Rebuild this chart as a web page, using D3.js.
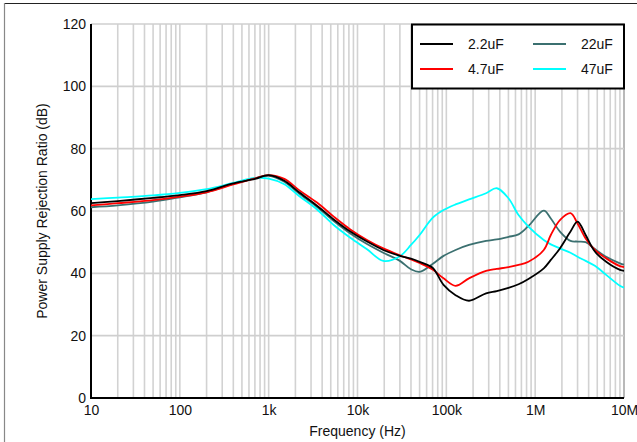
<!DOCTYPE html>
<html><head><meta charset="utf-8">
<script src="https://cdn.jsdelivr.net/npm/d3@7"></script>
<style>html,body{margin:0;padding:0;background:#fff;overflow:hidden}svg{display:block}text{font-family:"Liberation Sans",Arial,sans-serif;}</style>
</head><body><svg id="c" width="637" height="442"></svg>
<script>
const freq = [10,20,50,100,200,400,700,1000,1500,2200,3500,5400,8300,12800,19500,30000,40000,50000,70000,93000,127000,180000,280000,370000,500000,650000,840000,1250000,1500000,1900000,2500000,3000000,3700000,4700000,6300000,9000000,10000000];
const c2_2uF = [62.5,63.2,64.2,65.1,66.4,68.9,70.3,71.5,69.7,66.0,61.7,57.3,53.4,50.2,47.5,45.6,44.7,43.7,41.8,36.3,33.0,31.2,33.6,34.3,35.3,36.5,38.2,41.6,44.3,48.0,53.4,56.6,52.3,47.0,43.7,41.1,40.8];
const c4_7uF = [61.8,62.5,63.5,64.6,66.0,68.5,70.5,71.5,70.3,66.7,62.7,58.2,54.1,50.7,48.0,45.8,44.5,43.3,41.2,38.4,36.0,38.4,40.8,41.4,42.0,42.7,43.7,47.5,52.3,57.1,59.3,56.0,51.2,47.5,44.8,42.3,42.0];
const c22uF = [61.2,61.8,63.0,64.4,66.0,68.8,70.5,71.3,69.4,65.6,61.3,56.8,52.8,49.4,46.6,44.0,41.3,40.5,43.0,45.6,47.5,49.1,50.4,50.9,51.7,52.5,55.2,60.1,57.6,53.4,50.4,50.2,50.0,47.8,45.3,43.2,42.8];
const c47uF = [63.8,64.3,65.0,65.8,67.0,69.0,70.6,70.4,68.6,64.8,60.5,55.5,51.4,47.7,44.0,45.5,49.1,52.3,57.8,60.3,62.1,63.7,65.7,67.3,64.1,58.7,55.0,50.7,49.3,48.0,46.6,45.3,44.0,42.4,39.5,36.0,35.4];
const seriesNames = ["2.2uF","4.7uF","22uF","47uF"];
const seriesColors = ["#000000","#ff0000","#3b7070","#00ffff"];
const seriesValues = [c2_2uF,c4_7uF,c22uF,c47uF];
const xTickVals = [10,100,1000,10000,100000,1000000,10000000];
const xTickLabels = ["10","100","1k","10k","100k","1M","10M"];
const yTickVals = [0,20,40,60,80,100,120];

const svg = d3.select("#c");
const L=91,R=624,T=24,B=398;
const x = d3.scaleLog().domain([10,1e7]).range([L,R]);
const y = d3.scaleLinear().domain([0,120]).range([B,T]);

// outer frame
svg.append("line").attr("x1",4).attr("x2",637).attr("y1",3.5).attr("y2",3.5).attr("stroke","#222").attr("stroke-width",1.2);
svg.append("line").attr("x1",4.5).attr("x2",4.5).attr("y1",3).attr("y2",442).attr("stroke","#888").attr("stroke-width",1.2);

// grid
const minor=[];
for(let d=10; d<1e7; d*=10){ for(let k=1;k<10;k++){ minor.push(d*k);} }
minor.push(1e7);
const g = svg.append("g");
g.selectAll(".vg").data(minor.filter(v=>v>10)).enter().append("line")
 .attr("x1",d=>x(d)).attr("x2",d=>x(d)).attr("y1",T).attr("y2",B)
 .attr("stroke",d=>d===1e7?"#a8a8a8":"#d2d2d2").attr("stroke-width",1.6);
g.selectAll(".hg").data(yTickVals.filter(v=>v>0)).enter().append("line")
 .attr("x1",L).attr("x2",R).attr("y1",d=>y(d)).attr("y2",d=>y(d))
 .attr("stroke","#cfcfcf").attr("stroke-width",1.6);

// axes
const xAxis = d3.axisBottom(x).tickValues(xTickVals).tickFormat((d,i)=>xTickLabels[i]).tickSize(0).tickPadding(7);
const xa = svg.append("g").attr("transform",`translate(0,${B})`).call(xAxis);
xa.select(".domain").remove();
xa.selectAll("text").attr("font-size",14).attr("fill","#111").attr("font-family","Liberation Sans, Arial, sans-serif");
const yAxis = d3.axisLeft(y).tickValues(yTickVals).tickSize(0).tickPadding(5);
const ya = svg.append("g").attr("transform",`translate(${L},0)`).call(yAxis);
ya.select(".domain").remove();
ya.selectAll("text").attr("font-size",14).attr("fill","#111").attr("font-family","Liberation Sans, Arial, sans-serif");

svg.append("line").attr("x1",L).attr("x2",L).attr("y1",T).attr("y2",B+1).attr("stroke","#000").attr("stroke-width",2);
svg.append("line").attr("x1",L-1).attr("x2",R).attr("y1",B).attr("y2",B).attr("stroke","#000").attr("stroke-width",2);

// curves
const line = d3.line().x(d=>x(d[0])).y(d=>y(d[1])).curve(d3.curveCatmullRom.alpha(0.5));
const order=[2,3,1,0];
order.forEach(i=>{
  svg.append("path").datum(freq.map((f,j)=>[f,seriesValues[i][j]]))
   .attr("d",line).attr("fill","none").attr("stroke",seriesColors[i]).attr("stroke-width",1.8);
});

// titles
svg.append("text").attr("x",(L+R)/2).attr("y",436).attr("text-anchor","middle").attr("font-size",14).attr("fill","#111").text("Frequency (Hz)");
svg.append("text").attr("transform",`translate(47,${(T+B)/2}) rotate(-90)`).attr("text-anchor","middle").attr("font-size",14).attr("fill","#111").text("Power Supply Rejection Ratio (dB)");

// legend
const lg = svg.append("g");
lg.append("rect").attr("x",412).attr("y",24.5).attr("width",212).attr("height",64).attr("fill","#fff").attr("stroke","#000").attr("stroke-width",2);
const pos=[[420,44],[420,69],[533,44],[533,69]];
seriesNames.forEach((n,i)=>{
  const [px,py]=pos[i];
  lg.append("line").attr("x1",px).attr("x2",px+33).attr("y1",py).attr("y2",py).attr("stroke",seriesColors[i]).attr("stroke-width",1.8);
  lg.append("text").attr("x",px+48).attr("y",py+5).attr("font-size",14).attr("fill","#111").text(n);
});
</script></body></html>
